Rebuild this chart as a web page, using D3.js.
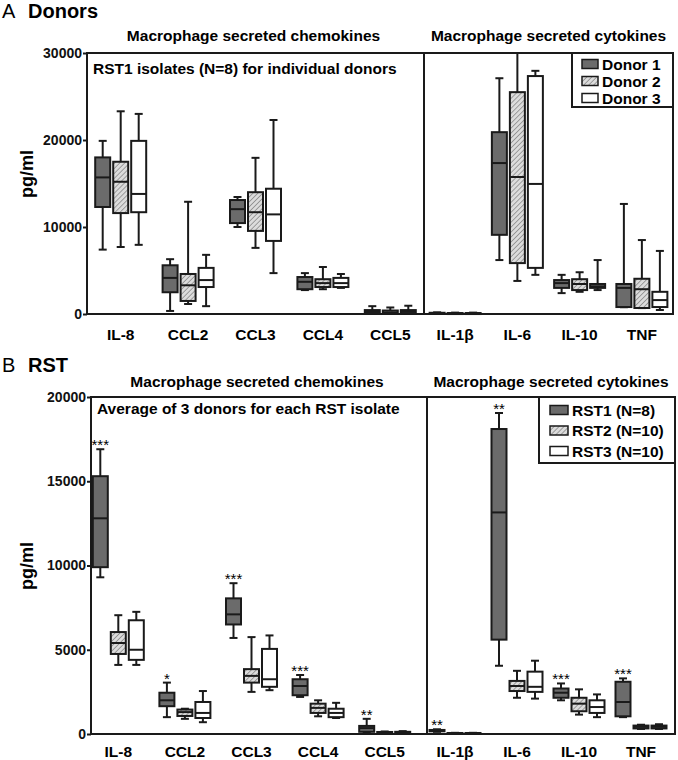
<!DOCTYPE html>
<html lang="en">
<head>
  <meta charset="UTF-8">
  <title>Macrophage secreted chemokines and cytokines</title>
  <script src="https://d3js.org/d3.v7.min.js"></script>
  <style>
    body { margin: 0; background: #fff; }
    svg { font-family: "Liberation Sans", Arial, sans-serif; }
    .frame { fill: none; stroke: #1a1a1a; stroke-width: 2; }
    .box { stroke: #1a1a1a; stroke-width: 2; }
    .whisker { stroke: #1a1a1a; stroke-width: 2; }
  </style>
</head>
<body>
<script>
  // Categories
  const chemokines = ['IL-8', 'CCL2', 'CCL3', 'CCL4', 'CCL5'];
  const cytokines = ['IL-1β', 'IL-6', 'IL-10', 'TNF'];

  // Five-number summaries [low whisker, q1, median, q3, high whisker], one per category
  const donor1 = [
    [7400, 12300, 15700, 18000, 19900],
    [350, 2500, 4150, 5600, 6300],
    [10000, 10450, 12050, 13100, 13450],
    [2750, 2850, 3700, 4250, 4700],
    [50, 100, 250, 450, 900],
    [20, 50, 90, 140, 190],
    [6200, 9100, 17350, 20900, 27100],
    [2400, 3000, 3550, 3900, 4500],
    [780, 800, 3000, 3450, 12650]
  ];
  const donor2 = [
    [7700, 11600, 15200, 17500, 23300],
    [1150, 1500, 3300, 4600, 12900],
    [7600, 9550, 11700, 14000, 17950],
    [2850, 3100, 3550, 4000, 5400],
    [50, 100, 200, 400, 750],
    [20, 40, 70, 110, 160],
    [3800, 5850, 15750, 25500, 30000],
    [2550, 2750, 3450, 4000, 4800],
    [680, 690, 2850, 4050, 8500]
  ];
  const donor3 = [
    [7950, 11700, 13800, 19900, 23000],
    [900, 3100, 3900, 5300, 6800],
    [4700, 8400, 11450, 14400, 22300],
    [3000, 3100, 3550, 4150, 4600],
    [50, 100, 250, 450, 950],
    [20, 40, 70, 110, 160],
    [4500, 5300, 14950, 27350, 27950],
    [2750, 3000, 3200, 3450, 6200],
    [460, 800, 1600, 2550, 7250]
  ];

  const rst1 = [
    [9300, 9900, 12800, 15300, 16900],
    [1000, 1650, 2000, 2450, 3050],
    [5700, 6500, 7100, 8050, 8950],
    [2200, 2300, 2850, 3250, 3500],
    [100, 130, 350, 480, 900],
    [130, 160, 200, 240, 280],
    [4050, 5600, 13150, 18100, 19050],
    [2000, 2150, 2450, 2700, 3000],
    [1000, 1050, 1900, 3100, 3300]
  ];
  const rst2 = [
    [4100, 4750, 5400, 6050, 7050],
    [900, 1070, 1300, 1450, 1500],
    [2500, 3050, 3450, 3850, 5750],
    [1050, 1250, 1550, 1800, 2000],
    [60, 80, 100, 120, 150],
    [30, 40, 50, 60, 70],
    [2150, 2550, 2850, 3150, 3750],
    [1150, 1350, 1800, 2150, 2650],
    [300, 330, 420, 500, 550]
  ];
  const rst3 = [
    [4100, 4400, 5000, 6750, 7250],
    [700, 950, 1250, 1900, 2550],
    [2600, 2800, 3250, 5050, 5850],
    [950, 1000, 1250, 1500, 1850],
    [70, 90, 110, 130, 170],
    [30, 40, 50, 60, 70],
    [2100, 2500, 2800, 3700, 4350],
    [1000, 1250, 1600, 2000, 2350],
    [300, 330, 420, 500, 580]
  ];
  const rstStars = ['***', '*', '***', '***', '**', '**', '**', '***', '***'];

  const donorNames = ['Donor 1', 'Donor 2', 'Donor 3'];
  const rstNames = ['RST1 (N=8)', 'RST2 (N=10)', 'RST3 (N=10)'];
  const yTicksA = [0, 10000, 20000, 30000];
  const yTicksB = [0, 5000, 10000, 15000, 20000];

  const W = 678, H = 760;
  const svg = d3.select('body').append('svg')
    .attr('width', W)
    .attr('height', H);

  // hatch pattern
  const pat = svg.append('defs').append('pattern')
    .attr('id', 'hatch')
    .attr('patternUnits', 'userSpaceOnUse')
    .attr('width', 3.5)
    .attr('height', 3.5)
    .attr('patternTransform', 'rotate(45)');
  pat.append('rect').attr('width', 3.5).attr('height', 3.5).attr('fill', '#dcdcdc');
  pat.append('line')
    .attr('x1', 0).attr('y1', 0).attr('x2', 0).attr('y2', 3.5)
    .attr('stroke', '#8c8c8c').attr('stroke-width', 1.6);

  const fills = ['#6b6b6b', 'url(#hatch)', '#ffffff'];
  const offsets = [-18, 0, 18];
  const boxW = 15;
  const capW = 8;

  function drawPanel(cfg) {
    const g = svg.append('g');
    const y = d3.scaleLinear().domain([0, cfg.max]).range([cfg.yZero, cfg.yTop]);
    const xL = d3.scaleBand().domain(chemokines).range(cfg.bandL);
    const xR = d3.scaleBand().domain(cytokines).range(cfg.bandR);
    const cats = chemokines.concat(cytokines);
    const cx = c => chemokines.includes(c) ? xL(c) + xL.bandwidth() / 2 : xR(c) + xR.bandwidth() / 2;

    // panel heading
    g.append('text')
      .attr('x', 2).attr('y', cfg.headY)
      .style('font-size', '20px')
      .text(cfg.letter);
    g.append('text')
      .attr('x', 28).attr('y', cfg.headY)
      .style('font-size', '20px').style('font-weight', 'bold')
      .text(cfg.name);

    // section titles
    g.append('text')
      .attr('x', (cfg.x0 + cfg.xDiv) / 2 - 2).attr('y', cfg.subY)
      .attr('text-anchor', 'middle')
      .style('font-size', '15.5px').style('font-weight', 'bold')
      .text('Macrophage secreted chemokines');
    g.append('text')
      .attr('x', (cfg.xDiv + cfg.x1) / 2).attr('y', cfg.subY)
      .attr('text-anchor', 'middle')
      .style('font-size', '15.5px').style('font-weight', 'bold')
      .text('Macrophage secreted cytokines');

    // y axis
    const axis = g.append('g')
      .attr('transform', `translate(${cfg.x0},0)`)
      .call(d3.axisLeft(y).tickValues(cfg.ticks).tickFormat(d3.format('d'))
        .tickSizeInner(4).tickSizeOuter(0).tickPadding(1));
    axis.select('.domain').remove();
    axis.selectAll('line').attr('stroke', '#1a1a1a').attr('stroke-width', 2);
    axis.selectAll('text')
      .attr('fill', '#111')
      .style('font-size', '14px').style('font-weight', 'bold')
      .style('font-family', '"Liberation Sans", Arial, sans-serif');

    g.append('text')
      .attr('transform', `translate(27,${cfg.labelY}) rotate(-90)`)
      .attr('text-anchor', 'middle')
      .attr('dominant-baseline', 'central')
      .style('font-size', '18px').style('font-weight', 'bold')
      .text('pg/ml');

    // frame + divider
    g.append('rect').attr('class', 'frame')
      .attr('x', cfg.x0).attr('y', cfg.yTop)
      .attr('width', cfg.x1 - cfg.x0).attr('height', cfg.yZero - cfg.yTop);
    g.append('line').attr('class', 'frame')
      .attr('x1', cfg.xDiv).attr('x2', cfg.xDiv)
      .attr('y1', cfg.yTop).attr('y2', cfg.yZero);

    g.append('text')
      .attr('x', cfg.x0 + 6).attr('y', cfg.noteY)
      .style('font-size', '15.5px').style('font-weight', 'bold')
      .text(cfg.note);

    // category labels
    g.selectAll('.cat')
      .data(cats)
      .join('text')
      .attr('x', d => cx(d))
      .attr('y', cfg.catY)
      .attr('text-anchor', 'middle')
      .style('font-size', '15.5px').style('font-weight', 'bold')
      .text(d => d);

    // boxes
    cfg.series.forEach((ser, si) => {
      const sg = g.append('g');
      ser.forEach((s, ci) => {
        const xc = cx(cats[ci]) + offsets[si];
        const [lo, q1, med, q3, hi] = s;
        sg.append('line').attr('class', 'whisker')
          .attr('x1', xc).attr('x2', xc).attr('y1', y(hi)).attr('y2', y(q3));
        sg.append('line').attr('class', 'whisker')
          .attr('x1', xc).attr('x2', xc).attr('y1', y(q1)).attr('y2', y(lo));
        sg.append('line').attr('class', 'whisker')
          .attr('x1', xc - capW / 2).attr('x2', xc + capW / 2).attr('y1', y(hi)).attr('y2', y(hi));
        sg.append('line').attr('class', 'whisker')
          .attr('x1', xc - capW / 2).attr('x2', xc + capW / 2).attr('y1', y(lo)).attr('y2', y(lo));
        sg.append('rect').attr('class', 'box')
          .attr('x', xc - boxW / 2).attr('y', y(q3))
          .attr('width', boxW).attr('height', Math.max(1, y(q1) - y(q3)))
          .attr('fill', fills[si]);
        sg.append('line').attr('class', 'whisker')
          .attr('x1', xc - boxW / 2).attr('x2', xc + boxW / 2).attr('y1', y(med)).attr('y2', y(med));
      });
    });

    // significance stars
    if (cfg.stars) {
      g.selectAll('.star')
        .data(cfg.stars)
        .join('text')
        .attr('x', (d, i) => cx(cats[i]) + offsets[0])
        .attr('y', (d, i) => y(cfg.series[0][i][4]) + 1)
        .attr('text-anchor', 'middle')
        .attr('fill', '#000')
        .style('font-size', '15px')
        .text(d => d);
    }

    // legend
    const L = cfg.legend;
    const lg = g.append('g');
    lg.append('rect').attr('class', 'frame')
      .attr('x', L.x).attr('y', cfg.yTop)
      .attr('width', cfg.x1 - L.x).attr('height', L.h);
    L.names.forEach((nm, i) => {
      const ry = cfg.yTop + L.first + i * L.step;
      lg.append('rect')
        .attr('x', L.x + L.sx).attr('y', ry - 4.5)
        .attr('width', L.sw).attr('height', 9)
        .attr('fill', fills[i]).attr('stroke', '#1a1a1a').attr('stroke-width', 1.5);
      lg.append('text')
        .attr('x', L.x + L.sx + L.sw + 4).attr('y', ry)
        .attr('dominant-baseline', 'central')
        .style('font-size', L.fs).style('font-weight', 'bold')
        .text(nm);
    });
  }

  drawPanel({
    letter: 'A', name: 'Donors', headY: 18,
    x0: 87, xDiv: 424, x1: 673, yTop: 53, yZero: 314, max: 30000,
    bandL: [87, 424], bandR: [424, 673],
    ticks: yTicksA, subY: 41, noteY: 74, catY: 340, labelY: 174,
    note: 'RST1 isolates (N=8) for individual donors',
    series: [donor1, donor2, donor3],
    legend: { x: 572, h: 54, first: 11, step: 17, sx: 10, sw: 16, fs: '15.5px', names: donorNames }
  });

  drawPanel({
    letter: 'B', name: 'RST', headY: 372,
    x0: 91, xDiv: 427, x1: 675, yTop: 397, yZero: 734, max: 20000,
    bandL: [85, 418], bandR: [424, 672],
    ticks: yTicksB, subY: 387, noteY: 414, catY: 757, labelY: 566,
    note: 'Average of 3 donors for each RST isolate',
    series: [rst1, rst2, rst3],
    stars: rstStars,
    legend: { x: 539, h: 66, first: 13, step: 20.5, sx: 11, sw: 18, fs: '15.5px', names: rstNames }
  });
</script>
</body>
</html>
